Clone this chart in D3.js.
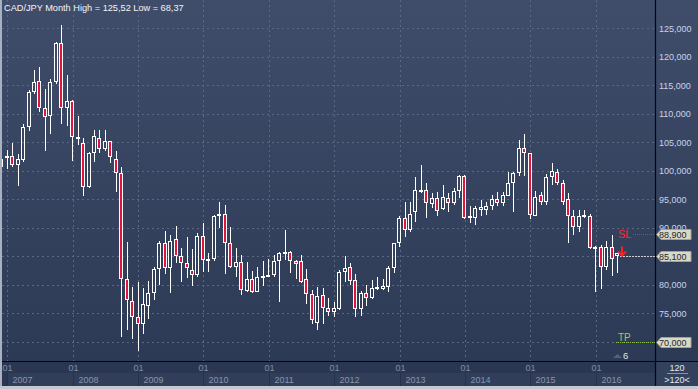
<!DOCTYPE html>
<html><head><meta charset="utf-8">
<script src="https://cdn.jsdelivr.net/npm/d3@7"></script>
<style>html,body{margin:0;padding:0;background:#2b3853;}svg{display:block;}</style>
</head><body><svg id="c" width="698" height="389"></svg>
<script>
const months = ["2006-12",
"2007-01","2007-02","2007-03","2007-04","2007-05","2007-06","2007-07","2007-08","2007-09","2007-10","2007-11","2007-12",
"2008-01","2008-02","2008-03","2008-04","2008-05","2008-06","2008-07","2008-08","2008-09","2008-10","2008-11","2008-12",
"2009-01","2009-02","2009-03","2009-04","2009-05","2009-06","2009-07","2009-08","2009-09","2009-10","2009-11","2009-12",
"2010-01","2010-02","2010-03","2010-04","2010-05","2010-06","2010-07","2010-08","2010-09","2010-10","2010-11","2010-12",
"2011-01","2011-02","2011-03","2011-04","2011-05","2011-06","2011-07","2011-08","2011-09","2011-10","2011-11","2011-12",
"2012-01","2012-02","2012-03","2012-04","2012-05","2012-06","2012-07","2012-08","2012-09","2012-10","2012-11","2012-12",
"2013-01","2013-02","2013-03","2013-04","2013-05","2013-06","2013-07","2013-08","2013-09","2013-10","2013-11","2013-12",
"2014-01","2014-02","2014-03","2014-04","2014-05","2014-06","2014-07","2014-08","2014-09","2014-10","2014-11","2014-12",
"2015-01","2015-02","2015-03","2015-04","2015-05","2015-06","2015-07","2015-08","2015-09","2015-10","2015-11","2015-12",
"2016-01","2016-02","2016-03","2016-04","2016-05"];
const open = [100.6,
102.2,102.6,101.1,101.9,107.6,113.8,115.7,111.1,109.7,115.5,122.4,111.0,
112.2,105.9,104.8,97.1,103.1,105.7,103.9,105.2,102.0,99.7,81.1,77.1,
74.4,73.1,76.3,78.5,82.7,87.3,82.9,88.0,85.1,83.8,82.6,81.7,
88.6,84.5,84.5,92.1,92.4,87.3,83.1,84.0,79.0,81.1,78.8,81.4,
81.5,81.8,84.1,85.6,85.7,84.2,84.2,81.0,78.3,73.3,78.2,76.0,
75.3,75.8,82.2,83.2,80.8,75.7,78.6,77.7,79.2,79.2,79.7,82.9,
87.3,91.7,89.7,92.7,96.5,96.7,94.2,95.2,93.3,95.2,94.3,96.5,
99.1,91.7,91.8,93.2,93.2,93.9,95.0,94.3,95.6,97.9,99.7,104.0,
103.1,92.1,95.7,94.6,98.9,99.8,97.9,95.0,92.1,90.1,92.1,92.1,
86.6,86.7,83.2,86.6,85.1];
const high = [102.5,
103.6,104.9,102.9,108.2,114.1,117.7,118.2,114.4,116.1,122.6,125.52,116.8,
112.4,109.6,105.7,103.3,107.2,107.2,107.2,105.2,103.5,100.6,87.5,79.6,
80.5,79.4,80.6,83.1,87.7,89.4,88.7,90.3,86.4,88.4,86.3,89.1,
90.8,85.5,92.3,94.5,94.0,90.1,86.4,85.2,84.0,82.4,83.1,84.2,
84.6,85.2,85.8,89.6,85.9,84.3,85.2,82.8,79.1,79.7,79.5,77.6,
77.0,82.6,85.0,83.8,81.9,79.0,80.0,80.8,81.4,81.0,83.3,87.4,
92.0,94.6,94.6,98.9,101.0,97.8,96.1,96.3,97.5,96.1,97.0,99.3,
99.3,93.8,93.8,94.9,94.6,95.7,96.3,96.3,99.8,99.8,105.4,106.5,
103.2,96.5,96.3,99.5,101.3,100.3,98.3,96.1,93.2,93.2,93.2,92.5,
86.8,87.0,87.6,88.7,85.5];
const low = [99.8,
100.3,100.7,97.4,101.6,107.0,113.4,110.4,103.4,106.5,115.3,108.2,107.9,
101.8,104.5,95.6,97.0,101.5,103.1,103.4,101.3,96.3,70.9,72.0,70.5,
68.37,71.4,74.0,77.3,80.0,81.9,78.5,83.8,80.5,81.2,79.8,81.4,
82.3,82.3,84.2,89.9,81.9,82.9,81.4,78.2,78.8,78.5,78.7,79.8,
81.4,81.4,77.0,84.3,82.1,81.1,80.4,76.6,73.2,72.1,73.2,74.5,
74.4,75.5,80.5,79.9,74.3,74.5,76.2,77.5,79.1,79.1,78.8,82.1,
86.7,88.3,89.3,91.1,96.1,91.7,93.4,92.1,93.1,92.8,94.0,95.2,
91.5,90.8,90.5,92.0,92.2,93.1,93.8,93.9,95.5,92.8,99.1,99.1,
91.5,92.0,94.0,94.0,97.5,97.5,94.0,87.4,88.7,89.2,91.7,86.3,
78.8,79.2,82.6,81.6,82.1];
const close = [102.0,
102.6,101.1,102.0,107.7,113.8,115.6,111.1,109.5,115.6,122.4,111.1,112.2,
105.9,105.5,97.1,103.1,106.1,103.9,105.2,102.4,99.6,81.1,77.3,74.4,
73.2,76.6,78.5,82.8,87.3,82.9,87.7,85.1,83.8,83.0,81.8,88.6,
84.4,84.6,92.1,92.5,87.3,83.1,84.0,79.1,81.1,78.8,81.4,81.5,
81.8,84.2,85.6,85.8,84.1,83.6,80.5,78.3,73.9,78.0,75.9,75.2,
75.9,82.2,82.9,80.7,75.7,78.5,77.6,79.5,79.7,79.8,82.9,87.3,
91.7,89.7,92.5,96.7,96.7,94.3,95.2,93.0,95.4,94.3,96.5,99.1,
91.7,92.0,93.4,93.6,93.8,95.1,94.3,95.8,97.8,99.7,104.0,103.1,
92.2,95.4,94.6,98.9,99.9,97.9,94.6,92.1,90.1,92.1,92.2,86.4,
86.7,83.2,86.6,84.6,85.5];
const yTicks = [125,120,115,110,105,100,95,90,85,80,75,70];
const yearLabels = ["2007","2008","2009","2010","2011","2012","2013","2014","2015","2016"];
const monthTickLabel = "01";
const slLevel = 88.9, entryLevel = 85.1, tpLevel = 70.0;
const tagLevels = [88.9, 85.1, 70.0];
const title = "CAD/JPY Month High = 125,52 Low = 68,37";
const barsInfo = "6";
const cornerTop = "120", cornerBottom = ">120<";

const svg = d3.select("#c");
const W = 698, H = 389;
const plotL = 2, plotR = 655, plotB = 361;
const FONT = "'Liberation Sans', Arial, sans-serif";
const loc = d3.formatLocale({decimal: ",", thousands: ".", grouping: [3], currency: ["", ""]});
const fmt = loc.format(".3f");

const x = d3.scalePoint().domain(months).range([1.85, 617.5]);
const y = d3.scaleLinear().domain([70, 125]).range([341.8, 28.3]);

const defs = svg.append("defs");
const g1 = defs.append("linearGradient").attr("id", "bg").attr("x1", 0).attr("y1", 0).attr("x2", 0).attr("y2", 1);
g1.append("stop").attr("offset", 0).attr("stop-color", "#3f4d6a");
g1.append("stop").attr("offset", 1).attr("stop-color", "#2d3a56");
defs.append("clipPath").attr("id", "clip").append("rect")
  .attr("x", plotL).attr("y", 0).attr("width", plotR - plotL).attr("height", plotB);

// backgrounds
svg.append("rect").attr("x", 0).attr("y", 0).attr("width", W).attr("height", plotB).attr("fill", "url(#bg)");
svg.append("rect").attr("x", 0).attr("y", plotB).attr("width", W).attr("height", H - plotB).attr("fill", "#2b3752");
svg.append("rect").attr("x", plotR).attr("y", plotB).attr("width", W - plotR).attr("height", 25).attr("fill", "#33415d");

// grid
const grid = svg.append("g").attr("stroke", "#5a6883").attr("stroke-width", 1).attr("stroke-dasharray", "2,3");
grid.selectAll("line.h").data(yTicks).join("line")
  .attr("x1", plotL).attr("x2", plotR)
  .attr("y1", d => Math.round(y(d)) + 0.5).attr("y2", d => Math.round(y(d)) + 0.5);
const janMonths = months.filter(m => m.endsWith("-01"));
grid.selectAll("line.v").data(janMonths).join("line")
  .attr("x1", d => Math.round(x(d)) + 0.5).attr("x2", d => Math.round(x(d)) + 0.5)
  .attr("y1", 0).attr("y2", plotB);

// title
svg.append("text").attr("x", 4).attr("y", 11).attr("fill", "#f2f4f8")
  .attr("font-family", FONT).attr("font-size", 9.2).text(title);

// candles
const cg = svg.append("g").attr("clip-path", "url(#clip)");
d3.range(months.length).forEach(i => {
  const cx = Math.floor(x(months[i]));
  const o = open[i], c = close[i];
  const top = Math.round(y(Math.max(o, c))), bot = Math.round(y(Math.min(o, c)));
  const bot2 = Math.max(bot, top + 2);
  const hy = Math.round(y(high[i])), ly = Math.round(y(low[i]));
  const wx = cx + 0.5;
  if (hy < top) cg.append("line").attr("x1", wx).attr("x2", wx).attr("y1", hy).attr("y2", top).attr("stroke", "#ffffff").attr("stroke-width", 1);
  if (ly > bot2) cg.append("line").attr("x1", wx).attr("x2", wx).attr("y1", bot2).attr("y2", ly).attr("stroke", "#ffffff").attr("stroke-width", 1);
  cg.append("rect").attr("x", cx - 1.5).attr("y", top + 0.5).attr("width", 3).attr("height", bot2 - top - 1)
    .attr("fill", c < o ? "#e0143c" : "none").attr("stroke", "#ffffff").attr("stroke-width", 1);
});

// SL / entry / TP markers
const ySL = Math.round(y(slLevel)) + 0.5, yEn = Math.round(y(entryLevel)) + 0.5, yTP = Math.round(y(tpLevel)) + 0.5;
svg.append("line").attr("x1", 633).attr("x2", plotR).attr("y1", ySL).attr("y2", ySL)
  .attr("stroke", "#ff2020").attr("stroke-dasharray", "1,1");
svg.append("text").attr("x", 618).attr("y", ySL + 3.5).attr("fill", "#ff2a2a")
  .attr("font-family", FONT).attr("font-size", 11).text("SL");
svg.append("line").attr("x1", 620).attr("x2", plotR).attr("y1", yEn).attr("y2", yEn)
  .attr("stroke", "#c9ccd2").attr("stroke-dasharray", "2,1");
svg.append("line").attr("x1", 616).attr("x2", plotR).attr("y1", yTP).attr("y2", yTP)
  .attr("stroke", "#8fc04a").attr("stroke-dasharray", "1,1");
svg.append("text").attr("x", 618).attr("y", yTP - 2).attr("fill", "#9ccc52")
  .attr("font-family", FONT).attr("font-size", 10).text("TP");
const ax = 622;
svg.append("path").attr("d", `M${ax},${yEn - 10}V${yEn - 1}M${ax - 4},${yEn - 5}L${ax},${yEn - 1}L${ax + 4},${yEn - 5}`)
  .attr("fill", "none").attr("stroke", "#ff2020").attr("stroke-width", 2);

// bars info
svg.append("path").attr("d", "M613,358L617.5,354L622,358Z").attr("fill", "#56627b");
svg.append("text").attr("x", 623).attr("y", 358.5).attr("fill", "#dfe6f2")
  .attr("font-family", FONT).attr("font-size", 9.5).text(barsInfo);

// right axis labels; labels hidden under a price tag are clipped to the visible part
const tagBoxes = tagLevels.map(v => { const yc = Math.round(y(v)) + 0.5; return [yc - 5, yc + 5]; });
yTicks.forEach((d, k) => {
  const ty = y(d);
  const hit = tagBoxes.find(b => ty + 4 > b[0] && ty - 4 < b[1]);
  if (hit && ty > hit[0] - 4 && ty < hit[1] + 4 && (ty - 4 >= hit[0] - 0.5)) return; // fully hidden behind the tag
  const t = svg.append("text").attr("x", 659).attr("y", ty + 3.3)
    .attr("fill", "#c7d4ec").attr("font-family", FONT).attr("font-size", 9).text(fmt(d));
  if (hit) {
    const id = "lc" + k;
    defs.append("clipPath").attr("id", id).append("rect")
      .attr("x", plotR).attr("y", ty - 8).attr("width", W - plotR).attr("height", Math.max(0, hit[0] - (ty - 8)));
    t.attr("clip-path", `url(#${id})`);
  }
});

// price tags
tagLevels.forEach(v => {
  const yc = Math.round(y(v)) + 0.5;
  svg.append("path").attr("d", `M656.5,${yc}L661,${yc - 5}H691V${yc + 5}H661Z`)
    .attr("fill", "#d9d9c4").attr("stroke", "#a3a38f").attr("stroke-width", 1);
  svg.append("text").attr("x", 659).attr("y", yc + 3.3).attr("fill", "#1d2538")
    .attr("font-family", FONT).attr("font-size", 9).text(fmt(v));
});

// bottom axis
const xa = svg.append("g");
const yearX = janMonths.map(m => Math.round(x(m)) + 0.5);
yearX.forEach((gx, k) => {
  const nx = k + 1 < yearX.length ? yearX[k + 1] : plotR;
  xa.append("rect").attr("x", gx).attr("y", 373).attr("width", nx - gx).attr("height", 13).attr("fill", "#313e5a");
  xa.append("line").attr("x1", gx).attr("x2", gx).attr("y1", 373).attr("y2", 386).attr("stroke", "#26324b");
});
xa.selectAll("text.m").data(janMonths).join("text")
  .attr("x", d => Math.round(x(d)) + 0.5).attr("y", 371).attr("text-anchor", "middle")
  .attr("fill", "#7f8dab").attr("font-family", FONT).attr("font-size", 9).text(monthTickLabel);
xa.selectAll("text.yr").data(yearLabels).join("text")
  .attr("x", (d, k) => yearX[k] + 5).attr("y", 383)
  .attr("fill", "#8995ae").attr("font-family", FONT).attr("font-size", 9).text(d => d);

// corner box
svg.append("text").attr("x", 677).attr("y", 371).attr("text-anchor", "middle").attr("fill", "#e4e9f2")
  .attr("font-family", FONT).attr("font-size", 9).text(cornerTop);
svg.append("line").attr("x1", 667).attr("x2", 688).attr("y1", 373.5).attr("y2", 373.5).attr("stroke", "#8893a8");
svg.append("text").attr("x", 677).attr("y", 383).attr("text-anchor", "middle").attr("fill", "#e4e9f2")
  .attr("font-family", FONT).attr("font-size", 9).text(cornerBottom);

// frame lines
svg.append("line").attr("x1", plotR + 0.5).attr("x2", plotR + 0.5).attr("y1", 0).attr("y2", 386).attr("stroke", "#070707").attr("stroke-width", 1.2);
svg.append("line").attr("x1", 0).attr("x2", W).attr("y1", plotB + 0.5).attr("y2", plotB + 0.5).attr("stroke", "#070707").attr("stroke-width", 1.2);
svg.append("rect").attr("x", 0).attr("y", 0).attr("width", 2).attr("height", H).attr("fill", "#a9b1c1");
svg.append("rect").attr("x", 0).attr("y", 386).attr("width", W).attr("height", 3).attr("fill", "#c4c9d1");
</script></body></html>
